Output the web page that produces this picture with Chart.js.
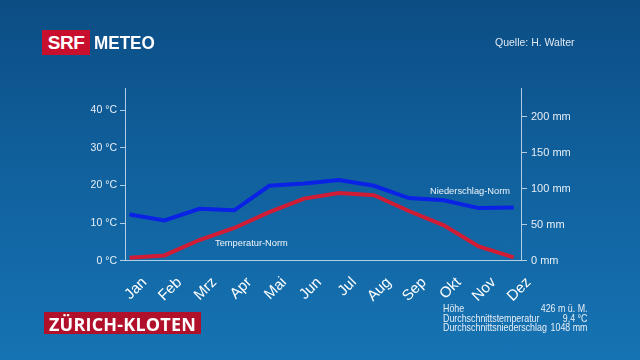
<!DOCTYPE html>
<html>
<head>
<meta charset="utf-8">
<script src="https://cdn.jsdelivr.net/npm/chart.js@4"></script>
<style>
  html, body { margin: 0; padding: 0; }
  body {
    width: 640px; height: 360px; overflow: hidden; position: relative;
    background: linear-gradient(180deg, #0c4d84 0%, #10609c 45%, #1673b3 100%);
    font-family: "Liberation Sans", Arial, sans-serif;
  }
  #grafico { position: absolute; left: 0; top: 0; }
  .logo { position: absolute; left: 42px; top: 30px; height: 25px; display: flex; align-items: center; }
  .srf { background: #c8102e; color: #fff; font: bold 19px "Liberation Sans", Arial, sans-serif; width: 48px; text-align: center; height: 25px; line-height: 25px; letter-spacing: -0.5px; }
  .meteo { color: #fff; font: bold 19px "Liberation Sans", Arial, sans-serif; margin-left: 4px; display: inline-block; transform: scaleX(0.9); transform-origin: left center; }
  .quelle { position: absolute; left: 495px; top: 36px; color: #dfe8f2; font-size: 10.5px; }
  .ort { position: absolute; left: 44px; top: 312px; height: 22px; line-height: 22px; background: #b0102a; color: #fff; font: bold 18px "Open Sans", "Liberation Sans", sans-serif; padding: 0 5px; letter-spacing: 0.2px; }
  .info { position: absolute; left: 443px; top: 304px; width: 168px; color: #e6eef6; font: 10.3px "Liberation Sans", sans-serif; line-height: 9.6px; transform: scaleX(0.86); transform-origin: left top; }
  .info div { display: flex; justify-content: space-between; white-space: nowrap; }
  .lbl { position: absolute; color: #f0f4f8; font-size: 9.3px; }
</style>
</head>
<body>
<canvas id="grafico" width="640" height="360"></canvas>
<div class="logo"><span class="srf">SRF</span><span class="meteo">METEO</span></div>
<div class="quelle">Quelle: H. Walter</div>
<div class="lbl" style="left:215px; top:238px;">Temperatur-Norm</div>
<div class="lbl" style="left:430px; top:186px;">Niederschlag-Norm</div>
<div class="ort">ZÜRICH-KLOTEN</div>
<div class="info">
  <div><span>Höhe</span><span>426 m ü. M.</span></div>
  <div><span>Durchschnittstemperatur</span><span>9,4 °C</span></div>
  <div><span>Durchschnittsniederschlag</span><span>1048 mm</span></div>
</div>
<script>
const monate = ["Jan", "Feb", "Mrz", "Apr", "Mai", "Jun", "Jul", "Aug", "Sep", "Okt", "Nov", "Dez"];
const temperatur = [0.8, 1.4, 5.5, 8.7, 12.9, 16.5, 18.0, 17.4, 13.2, 9.4, 3.8, 0.9];
const niederschlag = [64, 56, 72, 70, 104, 107, 112, 104, 87, 84, 73, 74];
const tempTicks = [0, 10, 20, 30, 40];
const mmTicks = [0, 50, 100, 150, 200];

const achsenFarbe = "rgba(205, 225, 242, 0.85)";
const textFarbe = "#e8eff6";

const ctx = document.getElementById("grafico").getContext("2d");

new Chart(ctx, {
    type: "line",
    data: {
        datasets: [
            {
                label: "Niederschlag-Norm",
                data: niederschlag.map((v, i) => ({ x: i, y: v })),
                borderColor: "#0a22e6",
                borderWidth: 4,
                pointRadius: 0,
                tension: 0,
                yAxisID: "mm"
            },
            {
                label: "Temperatur-Norm",
                data: temperatur.map((v, i) => ({ x: i, y: v })),
                borderColor: "#d01c34",
                borderWidth: 4,
                pointRadius: 0,
                tension: 0,
                yAxisID: "temp"
            }
        ]
    },
    options: {
        responsive: false,
        animation: false,
        layout: { padding: { top: 88, left: 0, right: 0, bottom: 0 } },
        plugins: { legend: { display: false }, tooltip: { enabled: false } },
        scales: {
            x: {
                type: "linear",
                min: -0.13,
                max: 11.21,
                afterBuildTicks: axis => { axis.ticks = monate.map((m, i) => ({ value: i })); },
                afterFit: axis => { axis.height = 99.3; },
                grid: { display: false },
                border: { display: true, color: achsenFarbe, width: 1 },
                ticks: {
                    callback: v => monate[v],
                    color: "#ffffff",
                    font: { size: 15, family: "Liberation Sans" },
                    minRotation: 45,
                    maxRotation: 45,
                    padding: 5,
                    labelOffset: 15
                }
            },
            temp: {
                position: "left",
                min: 0,
                max: 45.9,
                afterBuildTicks: axis => { axis.ticks = tempTicks.map(v => ({ value: v })); },
                afterFit: axis => { axis.width = 125; },
                grid: { drawOnChartArea: false, drawTicks: true, tickLength: 5, color: achsenFarbe },
                border: { display: true, color: achsenFarbe, width: 1 },
                ticks: {
                    callback: v => v + " °C",
                    color: textFarbe,
                    font: { size: 10.5, family: "Liberation Sans" },
                    padding: 3
                }
            },
            mm: {
                position: "right",
                min: 0,
                max: 239.7,
                afterBuildTicks: axis => { axis.ticks = mmTicks.map(v => ({ value: v })); },
                afterFit: axis => { axis.width = 119; },
                grid: { drawOnChartArea: false, drawTicks: true, tickLength: 6, color: achsenFarbe },
                border: { display: true, color: achsenFarbe, width: 1 },
                ticks: {
                    callback: v => v + " mm",
                    color: textFarbe,
                    font: { size: 11, family: "Liberation Sans" },
                    padding: 4
                }
            }
        }
    }
});
</script>
</body>
</html>
